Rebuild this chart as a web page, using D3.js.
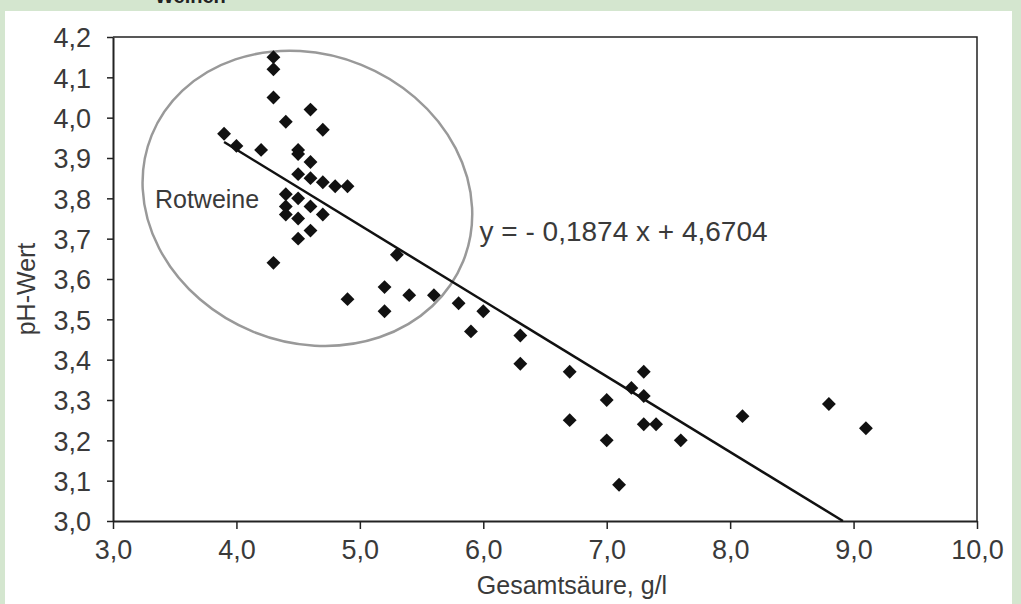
<!DOCTYPE html>
<html>
<head>
<meta charset="utf-8">
<script src="https://cdnjs.cloudflare.com/ajax/libs/d3/7.8.5/d3.min.js"></script>
<style>
  html, body { margin: 0; padding: 0; background: #d4e6cf; }
  svg { display: block; }
</style>
</head>
<body>
<script>
// data
var acid = [4.3, 4.3, 4.3, 4.6, 4.4, 4.7, 3.9, 4.0, 4.2, 4.5, 4.5, 4.6, 4.5, 4.6, 4.7, 4.8, 4.9,
            4.4, 4.5, 4.4, 4.6, 4.4, 4.5, 4.7, 4.6, 4.5, 4.3, 4.9, 5.3, 5.2, 5.4, 5.6, 5.2,
            5.8, 6.0, 5.9, 6.3, 6.3, 6.7, 7.3, 7.2, 7.3, 7.0, 6.7, 7.3, 7.4, 7.0, 7.6, 7.1,
            8.1, 8.8, 9.1];
var ph = [4.15, 4.12, 4.05, 4.02, 3.99, 3.97, 3.96, 3.93, 3.92, 3.92, 3.91, 3.89, 3.86, 3.85, 3.84, 3.83, 3.83,
          3.81, 3.80, 3.78, 3.78, 3.76, 3.75, 3.76, 3.72, 3.70, 3.64, 3.55, 3.66, 3.58, 3.56, 3.56, 3.52,
          3.54, 3.52, 3.47, 3.46, 3.39, 3.37, 3.37, 3.33, 3.31, 3.30, 3.25, 3.24, 3.24, 3.20, 3.20, 3.09,
          3.26, 3.29, 3.23];

var xTicks = [3, 4, 5, 6, 7, 8, 9, 10];
var yTicks = [3.0, 3.1, 3.2, 3.3, 3.4, 3.5, 3.6, 3.7, 3.8, 3.9, 4.0, 4.1, 4.2];

var slope = -0.1874;
var intercept = 4.6704;
var equation = 'y = - 0,1874 x + 4,6704';
var groupLabel = 'Rotweine';

var xTitle = 'Gesamtsäure, g/l';
var yTitle = 'pH-Wert';

var W = 1021, H = 604;
var margin = ({ top: 37, right: 44, bottom: 83, left: 113 });
var width = W - margin.left - margin.right;
var height = H - margin.top - margin.bottom;

var fmt = function(d) { return d3.format('.1f')(d).replace('.', ','); };

var svg = d3.select('body')
    .append('svg')
    .attr('width', W)
    .attr('height', H)
    .style('font-family', '"Liberation Sans", Arial, sans-serif');

// white panel on the green page
svg.append('rect')
    .attr('x', 5).attr('y', 11)
    .attr('width', 1007).attr('height', H - 11)
    .attr('fill', '#fff');

// heading of the page, cut off at the top like in the source
svg.append('text')
    .attr('x', 155).attr('y', 3)
    .style('font-size', '20px')
    .style('font-weight', 700)
    .attr('fill', '#222')
    .text('Weinen');

var x = d3.scaleLinear().domain([3, 10]).range([0, width]);
var y = d3.scaleLinear().domain([3, 4.2]).range([height, 0]);

var g = svg.append('g')
    .attr('transform', `translate(${margin.left}, ${margin.top})`);

// top and right border of plot area
g.append('path')
    .attr('d', `M0,0 H${width} V${height}`)
    .attr('fill', 'none')
    .attr('stroke', '#222')
    .attr('stroke-width', 1.5);

var xAxis = g.append('g')
    .attr('transform', `translate(0, ${height})`)
    .call(d3.axisBottom(x).tickValues(xTicks).tickFormat(fmt).tickSize(8).tickSizeOuter(0).tickPadding(11));

var yAxis = g.append('g')
    .call(d3.axisLeft(y).tickValues(yTicks).tickFormat(fmt).tickSize(6).tickSizeOuter(0).tickPadding(16));

[xAxis, yAxis].forEach(function(a) {
    a.select('.domain').attr('stroke', '#222').attr('stroke-width', 2);
    a.selectAll('.tick line').attr('stroke', '#222').attr('stroke-width', 1.5);
    a.selectAll('.tick text')
        .attr('fill', '#3a3a3a')
        .style('font-size', '27px')
        .style('font-family', '"Liberation Sans", Arial, sans-serif');
});
xAxis.selectAll('.tick text').attr('dy', '0.71em');
yAxis.selectAll('.tick text').attr('dy', '0.36em');

// axis titles
svg.append('text')
    .attr('x', 572).attr('y', 594)
    .attr('text-anchor', 'middle')
    .attr('fill', '#3a3a3a')
    .style('font-size', '25px')
    .text(xTitle);

svg.append('text')
    .attr('transform', 'translate(35, 289) rotate(-90)')
    .attr('text-anchor', 'middle')
    .attr('fill', '#3a3a3a')
    .style('font-size', '25px')
    .text(yTitle);

// circled group of red wines
g.append('ellipse')
    .attr('transform', `translate(${x(4.575)}, ${y(3.80)}) rotate(22)`)
    .attr('rx', 168)
    .attr('ry', 144)
    .attr('fill', 'none')
    .attr('stroke', '#999')
    .attr('stroke-width', 2.5);

g.append('text')
    .attr('x', x(3.34)).attr('y', y(3.777))
    .attr('fill', '#3a3a3a')
    .style('font-size', '25px')
    .text(groupLabel);

// regression line
var x0 = d3.min(acid);
var x1 = (3.0 - intercept) / slope;
g.append('line')
    .attr('x1', x(x0)).attr('y1', y(slope * x0 + intercept))
    .attr('x2', x(x1)).attr('y2', y(slope * x1 + intercept))
    .attr('stroke', '#111')
    .attr('stroke-width', 2.5);

g.append('text')
    .attr('x', x(5.97)).attr('y', y(3.693))
    .attr('fill', '#3a3a3a')
    .style('font-size', '28px')
    .text(equation);

// points
var pts = acid.map(function(a, i) { return { a: a, p: ph[i] }; });
g.selectAll('.pt')
    .data(pts)
    .enter()
    .append('path')
    .attr('class', 'pt')
    .attr('d', d3.symbol().type(d3.symbolSquare).size(96))
    .attr('transform', function(d) { return `translate(${x(d.a)}, ${y(d.p)}) rotate(45)`; })
    .attr('fill', '#111');
</script>
</body>
</html>
